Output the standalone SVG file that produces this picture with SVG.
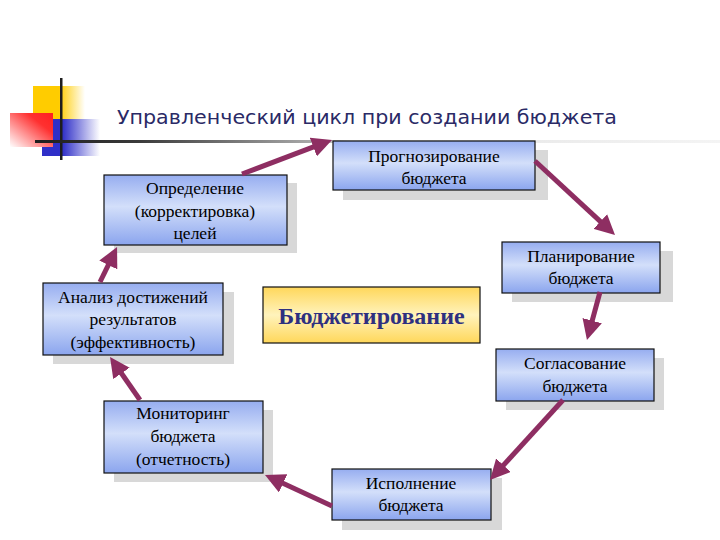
<svg xmlns="http://www.w3.org/2000/svg" width="720" height="540" viewBox="0 0 720 540">
<defs>
<linearGradient id="gBlue" x1="0" y1="0" x2="0" y2="1">
<stop offset="0" stop-color="#96ADF0"/>
<stop offset="0.45" stop-color="#D3DFFA"/>
<stop offset="1" stop-color="#8BA5EE"/>
</linearGradient>
<linearGradient id="gYel" x1="0" y1="0" x2="0" y2="1">
<stop offset="0" stop-color="#FFD75A"/>
<stop offset="0.5" stop-color="#FFF3BC"/>
<stop offset="1" stop-color="#FFD75A"/>
</linearGradient>
<linearGradient id="gLine" x1="0" y1="0" x2="1" y2="0">
<stop offset="0" stop-color="#1E1E1E"/>
<stop offset="0.15" stop-color="#3A3A3A"/>
<stop offset="0.42" stop-color="#B0B0B0"/>
<stop offset="0.46" stop-color="#E2E2E2"/>
<stop offset="1" stop-color="#F4F4F4"/>
</linearGradient>
<linearGradient id="gLogoY" x1="0" y1="0" x2="1" y2="0">
<stop offset="0" stop-color="#FFCC00"/>
<stop offset="0.5" stop-color="#FFCC00"/>
<stop offset="1" stop-color="#FFFFFF"/>
</linearGradient>
<linearGradient id="gLogoB" x1="0" y1="0" x2="1" y2="0">
<stop offset="0" stop-color="#2F2FC8"/>
<stop offset="0.35" stop-color="#2F2FC8"/>
<stop offset="1" stop-color="#FFFFFF"/>
</linearGradient>
<linearGradient id="gLogoR" x1="1" y1="0" x2="0" y2="1">
<stop offset="0" stop-color="#FF2020"/>
<stop offset="0.3" stop-color="#FF3030"/>
<stop offset="1" stop-color="#FFFFFF"/>
</linearGradient>
<marker id="ah" markerUnits="userSpaceOnUse" markerWidth="22" markerHeight="20" refX="8" refY="10" orient="auto" viewBox="0 0 22 20">
<path d="M0,0 L20,10 L0,20 z" fill="#8E2E62"/>
</marker>
<style>
.box{fill:url(#gBlue);stroke:#101010;stroke-width:1.2}
.sh{fill:#D8D8D8}
.t{font-family:"Liberation Serif","Times New Roman",serif;font-size:17.5px;fill:#000;text-anchor:middle}
.arr{stroke:#8E2E62;stroke-width:5;fill:none;marker-end:url(#ah)}
</style>
</defs>
<rect width="720" height="540" fill="#FFFFFF"/>
<g id="logo">
<rect x="33" y="86" width="52" height="33" fill="url(#gLogoY)"/>
<rect x="42" y="119" width="58" height="37" fill="url(#gLogoB)"/>
<rect x="10" y="113" width="43" height="34" fill="url(#gLogoR)"/>
<rect x="60" y="78" width="2.5" height="82" fill="#1E1E1E"/>
</g>
<rect x="35" y="140" width="685" height="3" fill="url(#gLine)"/>
<text x="117" y="124" font-family="'DejaVu Sans','Liberation Sans',sans-serif" font-size="19.5" fill="#2A2A66" textLength="500" lengthAdjust="spacingAndGlyphs">Управленческий цикл при создании бюджета</text>
<g id="n-forecast">
<rect class="sh" x="343" y="150" width="205" height="50"/>
<rect class="box" x="333" y="141" width="202" height="49"/>
<text class="t" x="434" y="162">Прогнозирование</text>
<text class="t" x="434" y="184">бюджета</text>
</g>
<g id="n-goals">
<rect class="sh" x="114" y="183" width="183" height="70"/>
<rect class="box" x="104" y="175" width="183" height="70"/>
<text class="t" x="195" y="194">Определение</text>
<text class="t" x="195" y="217">(корректировка)</text>
<text class="t" x="195" y="239">целей</text>
</g>
<g id="n-plan">
<rect class="sh" x="512" y="251" width="161" height="51"/>
<rect class="box" x="502" y="242" width="158" height="51"/>
<text class="t" x="581" y="262">Планирование</text>
<text class="t" x="581" y="284">бюджета</text>
</g>
<g id="n-agree">
<rect class="sh" x="506" y="358" width="158" height="52"/>
<rect class="box" x="496" y="349" width="158" height="52"/>
<text class="t" x="575" y="369">Согласование</text>
<text class="t" x="575" y="392">бюджета</text>
</g>
<g id="n-exec">
<rect class="sh" x="342" y="478" width="160" height="52"/>
<rect class="box" x="332" y="469" width="159" height="51"/>
<text class="t" x="411" y="489">Исполнение</text>
<text class="t" x="411" y="511">бюджета</text>
</g>
<g id="n-monitor">
<rect class="sh" x="114" y="410" width="159" height="72"/>
<rect class="box" x="104" y="401" width="159" height="72"/>
<text class="t" x="183" y="419">Мониторинг</text>
<text class="t" x="183" y="442">бюджета</text>
<text class="t" x="183" y="465">(отчетность)</text>
</g>
<g id="n-analysis">
<rect class="sh" x="53" y="292" width="181" height="72"/>
<rect class="box" x="43" y="283" width="180" height="72"/>
<text class="t" x="133" y="303">Анализ достижений</text>
<text class="t" x="133" y="325">результатов</text>
<text class="t" x="133" y="348">(эффективность)</text>
</g>
<g id="n-center">
<rect x="263" y="287" width="217" height="56" fill="url(#gYel)" stroke="#101010" stroke-width="1.2"/>
<text x="371.5" y="324" font-family="'Liberation Serif','Times New Roman',serif" font-size="24" font-weight="bold" fill="#2E3080" text-anchor="middle">Бюджетирование</text>
</g>
<g id="connectors">
<line class="arr" x1="242" y1="174" x2="320.8" y2="144.2"/>
<line class="arr" x1="535" y1="161" x2="606.2" y2="226.9"/>
<line class="arr" x1="600" y1="292" x2="590.1" y2="328.4"/>
<line class="arr" x1="563" y1="400" x2="498.1" y2="471.1"/>
<line class="arr" x1="332" y1="506" x2="275.9" y2="480"/>
<line class="arr" x1="140" y1="400" x2="116.9" y2="366.8"/>
<line class="arr" x1="100" y1="282" x2="111.8" y2="257.8"/>
</g>
</svg>
